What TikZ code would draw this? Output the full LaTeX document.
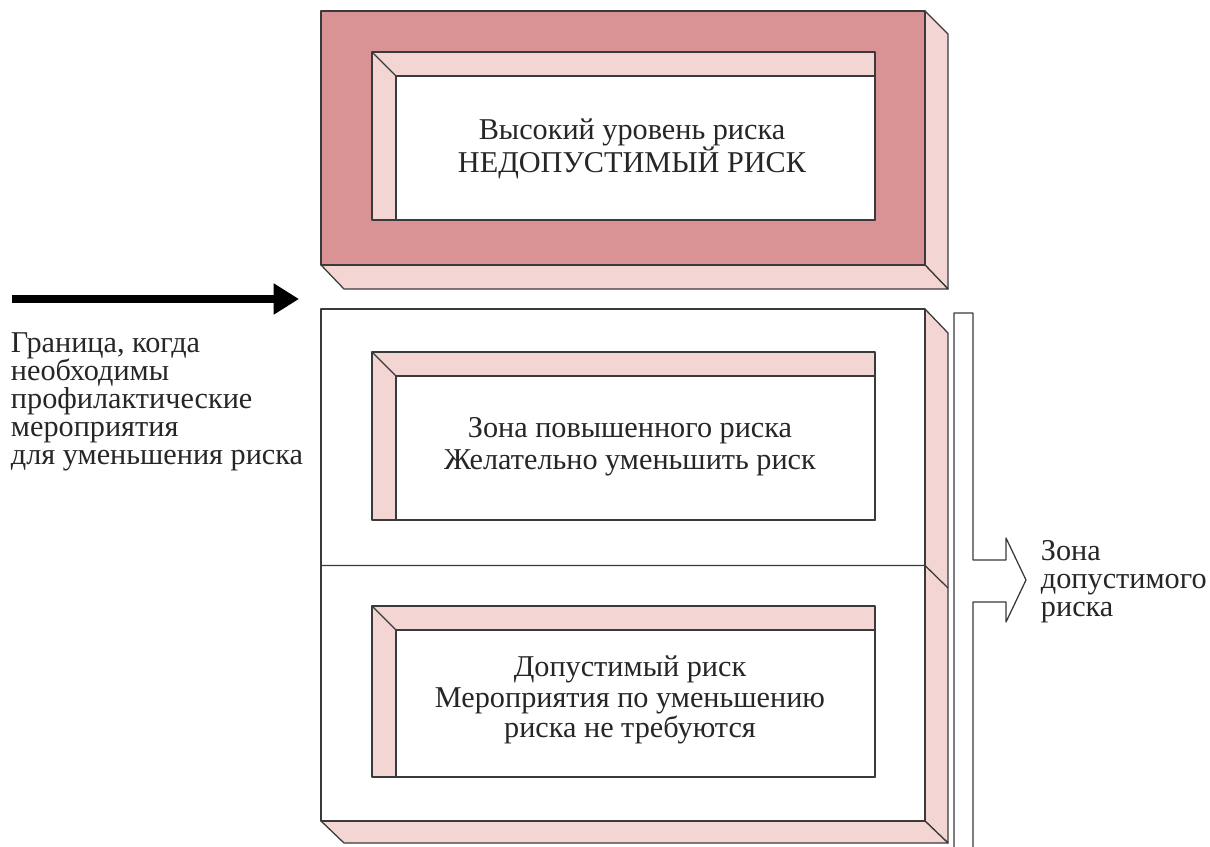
\documentclass[tikz,border=0pt]{standalone}
\usepackage{fontspec}
\setmainfont{Liberation Serif}
\usepackage{tikz}
\usetikzlibrary{arrows.meta, positioning, calc}
\definecolor{rosedark}{HTML}{D99395}
\definecolor{roselight}{HTML}{F3D6D4}
\definecolor{edgegray}{HTML}{3A3A3A}

\begin{document}
\begin{tikzpicture}[x=0.025cm,y=-0.025cm,line join=round,
	face/.style={draw=edgegray,line width=0.9pt},
	dark face/.style={face,fill=rosedark},
	light face/.style={face,fill=roselight},
	white face/.style={face,fill=white},
	box text/.style={font=\fontsize{21.5}{23}\selectfont,align=center,text=black!85},
	side text/.style={font=\fontsize{21.5}{20}\selectfont,align=left,text=black!85}]

	\useasboundingbox (0,0) rectangle (1210,847);

	% upper block: unacceptable risk
	\draw[light face] (925,11) -- (948,34) -- (948,289) -- (925,265) -- cycle;
	\draw[light face] (321,265) -- (344,289) -- (948,289) -- (925,265) -- cycle;
	\draw[dark face] (321,11) rectangle (925,265);
	\draw[light face] (372,52) rectangle (875,220);
	\draw[white face] (396,76) rectangle (875,220);
	\draw[face] (372,52) -- (396,76);

	% lower block: acceptable zone
	\draw[light face] (925,309) -- (948,333) -- (948,843) -- (925,821) -- cycle;
	\draw[light face] (321,821) -- (344,843) -- (948,843) -- (925,821) -- cycle;
	\draw[white face] (321,309) rectangle (925,821);
	\draw[face] (321,565.5) -- (925,565.5) -- (948,588);

	\draw[light face] (372,352) rectangle (875,520);
	\draw[white face] (396,376) rectangle (875,520);
	\draw[face] (372,352) -- (396,376);

	\draw[light face] (372,606) rectangle (875,777);
	\draw[white face] (396,630) rectangle (875,777);
	\draw[face] (372,606) -- (396,630);

	% bracket with block arrow
	\draw[white face] (954,860) -- (954,313) -- (973,313) -- (973,560) -- (1006,560)
		-- (1006,538) -- (1026,580) -- (1006,622) -- (1006,602) -- (973,602) -- (973,860);

	\node[box text] (high) at (632,149) {Высокий уровень риска\\НЕДОПУСТИМЫЙ РИСК};
	\node[box text] (raised) at (630,447) {Зона повышенного риска\\Желательно уменьшить риск};
	\node[box text,font=\fontsize{21.5}{21.5}\selectfont] (allowed) at (630,700) {Допустимый риск\\Мероприятия по уменьшению\\риска не требуются};
	\node[side text,anchor=west] (border) at (6,402) {Граница, когда\\необходимы\\профилактические\\мероприятия\\для уменьшения риска};
	\node[side text,anchor=west] (zone) at (1036,582) {Зона\\допустимого\\риска};

	\coordinate (limit start) at (12,299);
	\coordinate (limit end) at (299,299);
	\draw[line width=5pt,-{Triangle[length=18pt,width=21pt]}] (limit start) -- (limit end);
\end{tikzpicture}
\end{document}
